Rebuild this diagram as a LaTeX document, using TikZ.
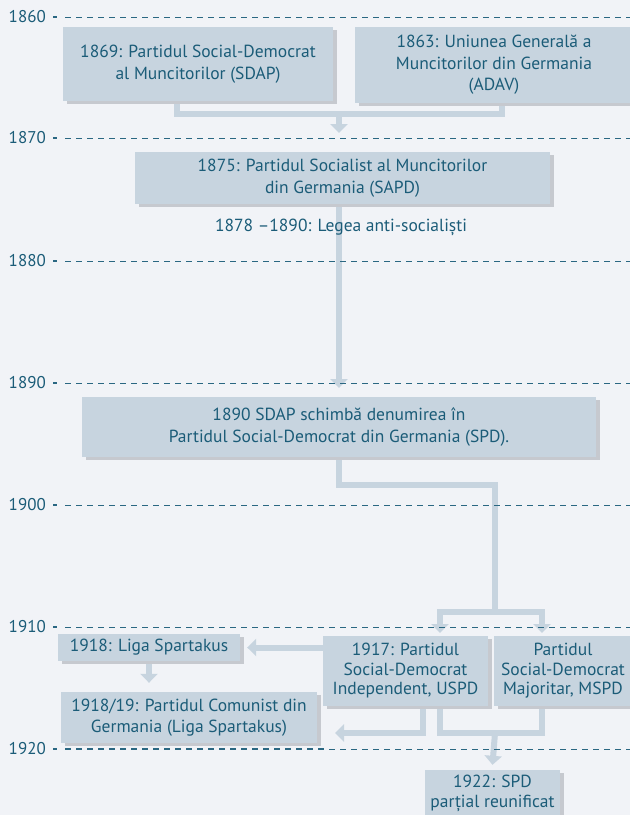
\documentclass[tikz,border=0pt]{standalone}
\usepackage{fontspec}
\setmainfont{PT Sans}
\usetikzlibrary{arrows.meta,calc}
\definecolor{bgc}{HTML}{F1F3F7}
\definecolor{boxc}{HTML}{C7D4DF}
\definecolor{shc}{HTML}{C6C9CF}
\definecolor{txt}{HTML}{1B5C78}
\definecolor{gridc}{HTML}{2A6782}
\pgfdeclarelayer{bg}
\pgfdeclarelayer{conn}
\pgfdeclarelayer{grid}
\pgfsetlayers{bg,conn,grid,main}
\tikzset{
  box/.style={fill=boxc, draw=none, align=center, inner sep=0pt, text=txt,
    font=\fontsize{17.5}{21.5}\selectfont,
    preaction={fill=shc, transform canvas={xshift=3.5pt,yshift=-3pt}}},
  plain/.style={align=center, inner sep=0pt, text=txt, font=\fontsize{17.5}{21.5}\selectfont},
  yearlab/.style={anchor=east, inner sep=0pt, text=txt, font=\fontsize{17}{17}\selectfont},
  gridline/.style={draw=gridc, line width=1pt, dash pattern=on 6pt off 5pt},
  gridtick/.style={draw=gridc, line width=1.3pt},
  conn/.style={draw=boxc, line width=6pt},
  arr/.style={draw=boxc, line width=6pt, -{Triangle[width=17pt,length=9pt]}},
}
\begin{document}
\begin{tikzpicture}[x=1pt,y=-1pt]
\useasboundingbox (0,0) rectangle (630,815);
\begin{pgfonlayer}{bg}
\fill[bgc] (0,0) rectangle (630,815);
\end{pgfonlayer}
\clip (0,0) rectangle (630,815);
% timeline
\begin{pgfonlayer}{grid}
\foreach \yr/\yy in {1860/17,1870/138,1880/261,1890/383,1900/505,1910/627,1920/749}{
  \node[yearlab] (y\yr) at (46,\yy) {\yr};
  \draw[gridtick] (53,\yy) -- (57,\yy);
  \draw[gridline] (65,\yy) -- (640,\yy);
}
\draw[gridc, line width=2.2pt, dash pattern=on 6pt off 5pt] (65,749) -- (326,749);
\end{pgfonlayer}
% boxes
\node[box, minimum width=270pt, minimum height=74pt] (b1869) at (198,64) {1869: Partidul Social-Democrat\\al Muncitorilor (SDAP)};
\node[box, minimum width=278pt, minimum height=76pt] (b1863) at (494,65) {1863: Uniunea Generală a\\Muncitorilor din Germania\\(ADAV)};
\node[box, minimum width=415pt, minimum height=52pt] (b1875) at (342.5,178) {1875: Partidul Socialist al Muncitorilor\\din Germania (SAPD)};
\node[plain] (law) at (341,227) {1878 –1890: Legea anti-socialiști};
\node[box, minimum width=514pt, minimum height=60pt] (b1890) at (339,427) {1890 SDAP schimbă denumirea în\\Partidul Social-Democrat din Germania (SPD).};
\node[box, minimum width=182pt, minimum height=27pt] (spart) at (149,647.5) {1918: Liga Spartakus};
\node[box, minimum width=256pt, minimum height=51pt] (kpd) at (189,717.5) {1918/19: Partidul Comunist din\\Germania (Liga Spartakus)};
\node[box, minimum width=165pt, minimum height=70pt, font=\fontsize{17.5}{19.5}\selectfont] (uspd) at (405.5,671) {1917: Partidul\\Social-Democrat\\Independent, USPD};
\node[box, minimum width=138pt, minimum height=70pt, font=\fontsize{17.5}{19.5}\selectfont] (mspd) at (563,671) {Partidul\\Social-Democrat\\Majoritar, MSPD};
\node[box, minimum width=135pt, minimum height=46pt, font=\fontsize{17.5}{20}\selectfont] (b1922) at (492.5,793) {1922: SPD\\parțial reunificat};
% connectors
\coordinate (j1) at (339,114);
\coordinate (a1) at (339,133);
\coordinate (a2) at (339,388);
\coordinate (j2) at (495,485);
\coordinate (j3) at (495,612);
\coordinate (au) at (440,633);
\coordinate (am) at (542,633);
\coordinate (j4) at (495,733);
\coordinate (ak) at (335,733);
\begin{pgfonlayer}{conn}
\draw[conn] ([xshift=-21pt]b1869.south) |- (j1) -| ([xshift=8pt]b1863.south);
\draw[arr] (j1) -- (a1);
\draw[arr] ([xshift=-3.5pt]b1875.south) -- (a2);
\draw[conn] (b1890.south) |- (j2) -- (j3);
\draw[arr] (j3) -| (au);
\draw[arr] (j3) -| (am);
\draw[arr, shorten >=7pt] (uspd.west |- spart.east) -- (spart.east);
\draw[arr, shorten >=9pt] (spart.south) -- (spart.south |- kpd.north);
\draw[arr] ([xshift=17.5pt]uspd.south) |- (ak);
\draw[conn] ([xshift=34.5pt]uspd.south) |- (j4) -| ([xshift=-21pt]mspd.south);
\draw[arr] (j4) -- ([yshift=5pt]b1922.north);
\end{pgfonlayer}
\end{tikzpicture}
\end{document}
